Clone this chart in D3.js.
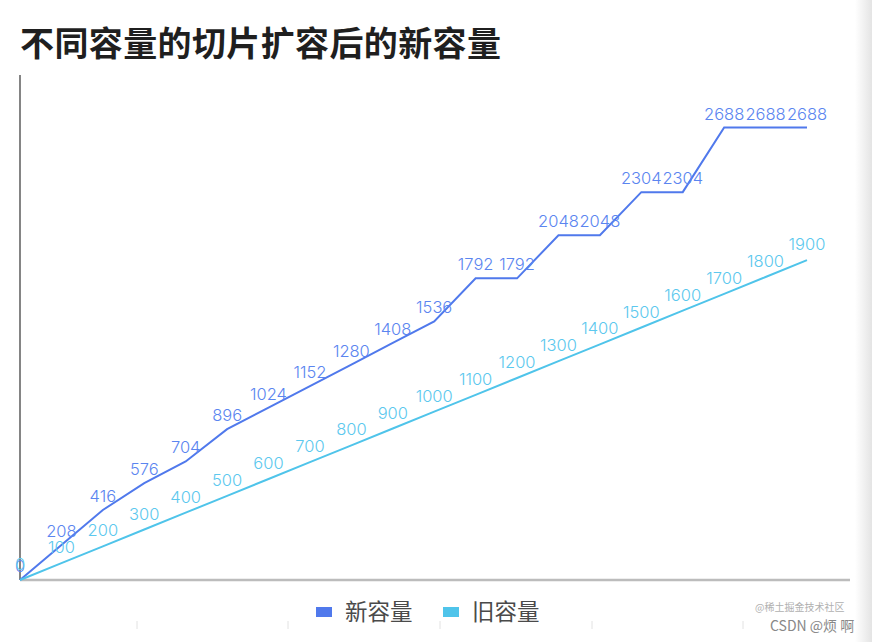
<!DOCTYPE html>
<html>
<head>
<meta charset="utf-8">
<script src="https://cdn.jsdelivr.net/npm/d3@7"></script>
<style>
  body { margin: 0; background: #fff; }
  svg { display: block; }
</style>
</head>
<body>
<div id="chart"></div>
<script>
// 旧容量 (x categories) and 新容量 after growth
const oldCap = [0, 100, 200, 300, 400, 500, 600, 700, 800, 900, 1000, 1100, 1200, 1300, 1400, 1500, 1600, 1700, 1800, 1900];
const newCap = [0, 208, 416, 576, 704, 896, 1024, 1152, 1280, 1408, 1536, 1792, 1792, 2048, 2048, 2304, 2304, 2688, 2688, 2688];
const seriesNames = ["新容量", "旧容量"];
const yMax = 3000;

function drawChart(selector = "#chart") {
    const width = 872;
    const height = 642;
    const margin = { top: 75, left: 20, bottom: 62 };
    const plotRight = 807;
    const axisRight = 850;

    const colors = { line: ["#5079EC", "#4FC4EA"], label: ["#5B85F0", "#5CC8EE"] };
    const labelOffset = [8, 10];
    const numFont = "Inter, 'Noto Sans', sans-serif";
    const cjkFont = "'Noto Sans CJK SC', sans-serif";

    const svg = d3.select(selector)
        .html("")
        .append("svg")
        .attr("width", width)
        .attr("height", height);

    // grey strip on the right edge
    const grad = svg.append("defs").append("linearGradient")
        .attr("id", "edge")
        .attr("x1", 0).attr("x2", 1).attr("y1", 0).attr("y2", 0);
    grad.append("stop").attr("offset", "0%").attr("stop-color", "#fff");
    grad.append("stop").attr("offset", "100%").attr("stop-color", "#e4e4e4");
    svg.append("rect")
        .attr("x", 855).attr("y", 0)
        .attr("width", 17).attr("height", height)
        .attr("fill", "url(#edge)");

    svg.append("text")
        .attr("x", 20)
        .attr("y", 56)
        .attr("textLength", 481)
        .style("font-family", cjkFont)
        .style("font-size", "34px")
        .style("font-weight", "bold")
        .style("fill", "#1f1f1f")
        .text("不同容量的切片扩容后的新容量");

    const x = d3.scalePoint()
        .domain(d3.range(oldCap.length))
        .range([margin.left, plotRight]);

    const y = d3.scaleLinear()
        .domain([0, yMax])
        .range([height - margin.bottom, margin.top]);

    // x axis baseline
    svg.append("line")
        .attr("x1", margin.left).attr("x2", axisRight)
        .attr("y1", y(0)).attr("y2", y(0))
        .attr("stroke", "#bcbcbc")
        .attr("stroke-width", 2.5);

    // y axis
    svg.append("line")
        .attr("x1", margin.left).attr("x2", margin.left)
        .attr("y1", y(yMax)).attr("y2", y(0))
        .attr("stroke", "#333")
        .attr("stroke-width", 1.2);

    const series = [newCap, oldCap];
    const line = d3.line()
        .x((d, i) => x(i))
        .y(d => y(d));

    series.forEach((values, s) => {
        svg.append("path")
            .datum(values)
            .attr("fill", "none")
            .attr("stroke", colors.line[s])
            .attr("stroke-width", 2)
            .attr("d", line);

        svg.selectAll(".label-" + s)
            .data(values)
            .join("text")
            .attr("class", "label-" + s)
            .attr("x", (d, i) => x(i))
            .attr("y", d => y(d) - labelOffset[s])
            .attr("text-anchor", "middle")
            .style("font-family", numFont)
            .style("font-size", "16.5px")
            .style("font-weight", 300)
            .style("fill", colors.label[s])
            .text(d => d);
    });

    // legend
    const legendX = [316, 443];
    seriesNames.forEach((name, s) => {
        svg.append("rect")
            .attr("x", legendX[s])
            .attr("y", 607)
            .attr("width", 16)
            .attr("height", 10)
            .attr("fill", colors.line[s]);
        svg.append("text")
            .attr("x", legendX[s] + 29)
            .attr("y", 620)
            .style("font-family", cjkFont)
            .style("font-size", "22.5px")
            .style("fill", "#4a4a4a")
            .text(name);
    });

    // faint ticks below the legend
    [137, 288, 440, 592, 743].forEach(tx => {
        svg.append("line")
            .attr("x1", tx).attr("x2", tx)
            .attr("y1", 621).attr("y2", 629)
            .attr("stroke", "#e2e2e2");
    });

    // watermarks
    svg.append("text")
        .attr("x", 755)
        .attr("y", 611)
        .style("font-family", cjkFont)
        .style("font-size", "10px")
        .style("fill", "#b0b0b0")
        .text("@稀土掘金技术社区");

    svg.append("text")
        .attr("x", 770)
        .attr("y", 631)
        .style("font-family", cjkFont)
        .style("font-size", "14px")
        .style("fill", "#888")
        .text("CSDN @烦  啊");
}

drawChart();
</script>
</body>
</html>
